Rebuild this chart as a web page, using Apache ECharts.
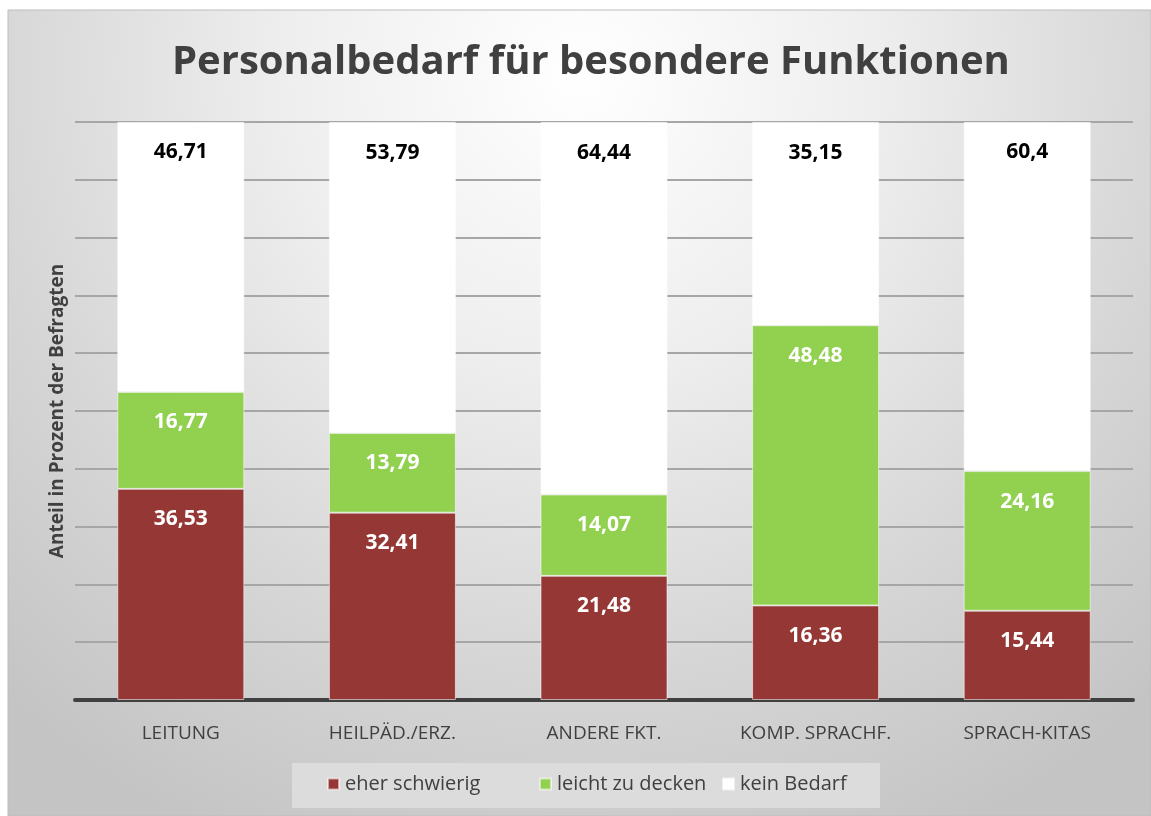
<!DOCTYPE html>
<html>
<head>
<meta charset="utf-8">
<script src="https://cdn.jsdelivr.net/npm/echarts@6/dist/echarts.min.js"></script>
<style>
html,body{margin:0;padding:0;background:#ffffff;}
#chart{width:1151px;height:816px;}
</style>
</head>
<body>
<div id="chart"></div>
<script>
const categories = ['LEITUNG', 'HEILPÄD./ERZ.', 'ANDERE FKT.', 'KOMP. SPRACHF.', 'SPRACH-KITAS'];
const eherSchwierig = [36.53, 32.41, 21.48, 16.36, 15.44];
const leichtZuDecken = [16.77, 13.79, 14.07, 48.48, 24.16];
const keinBedarf = [46.71, 53.79, 64.44, 35.15, 60.4];
const seriesNames = ['eher schwierig', 'leicht zu decken', 'kein Bedarf'];
const titleText = 'Personalbedarf für besondere Funktionen';
const yAxisName = 'Anteil in Prozent der Befragten';

const fmt = p => String(p.value).replace('.', ',');
const FONT = '"Open Sans", sans-serif';

function makeSeries(name, data, color, labelColor) {
  return {
    name: name,
    type: 'bar',
    stack: 'total',
    data: data,
    barWidth: 127,
    itemStyle: { color: color, borderColor: 'rgba(255,255,255,0.55)', borderWidth: 1 },
    label: {
      show: true,
      position: 'insideTop',
      distance: 20,
      formatter: fmt,
      color: labelColor,
      fontFamily: FONT,
      fontWeight: 'bold',
      fontSize: 21
    }
  };
}

const legendLefts = [327, 539, 722];
const legends = seriesNames.map((n, i) => ({
  data: [n],
  left: legendLefts[i],
  top: 774,
  padding: 0,
  itemWidth: 11,
  itemHeight: 11,
  icon: 'rect',
  selectedMode: false,
  textStyle: { fontFamily: FONT, fontSize: 20, color: '#404040', padding: [0, 0, 0, 1] }
}));

const chart = echarts.init(document.getElementById('chart'), null, { renderer: 'canvas' });
chart.setOption({
  animation: false,
  backgroundColor: '#ffffff',
  graphic: [
    {
      type: 'rect', z: -10, silent: true,
      shape: { x: 8, y: 10, width: 1143, height: 806 },
      style: {
        fill: {
          type: 'radial', x: 0.5, y: 0.08, r: 1.05,
          colorStops: [
            { offset: 0, color: '#ffffff' },
            { offset: 0.35, color: '#eeeeee' },
            { offset: 0.7, color: '#d6d6d6' },
            { offset: 1, color: '#c4c4c4' }
          ]
        },
        stroke: '#bdbdbd', lineWidth: 1
      }
    },
    {
      type: 'rect', z: -5, silent: true,
      shape: { x: 292, y: 763, width: 588, height: 45 },
      style: { fill: '#dcdcdc' }
    }
  ],
  title: {
    text: titleText,
    left: 167,
    top: 38,
    textStyle: { fontFamily: FONT, fontWeight: 'bold', fontSize: 40, color: '#404040' }
  },
  legend: legends,
  grid: { left: 75, right: 18, top: 122, bottom: 116, containLabel: false },
  xAxis: {
    type: 'category',
    data: categories,
    axisLine: { lineStyle: { color: '#404040', width: 4 } },
    axisTick: { show: false },
    axisLabel: { fontFamily: FONT, fontSize: 19, color: '#404040', margin: 24 }
  },
  yAxis: {
    type: 'value',
    min: 0, max: 100, interval: 10,
    name: yAxisName,
    nameLocation: 'middle',
    nameGap: 8,
    nameTextStyle: { fontFamily: FONT, fontWeight: 'bold', fontSize: 19, color: '#404040' },
    axisLabel: { show: false },
    axisLine: { show: false },
    axisTick: { show: false },
    splitLine: { lineStyle: { color: '#a6a6a6', width: 2 } }
  },
  series: [
    makeSeries(seriesNames[0], eherSchwierig, '#953735', '#ffffff'),
    makeSeries(seriesNames[1], leichtZuDecken, '#92d050', '#ffffff'),
    makeSeries(seriesNames[2], keinBedarf, '#ffffff', '#000000')
  ]
});
</script>
</body>
</html>
